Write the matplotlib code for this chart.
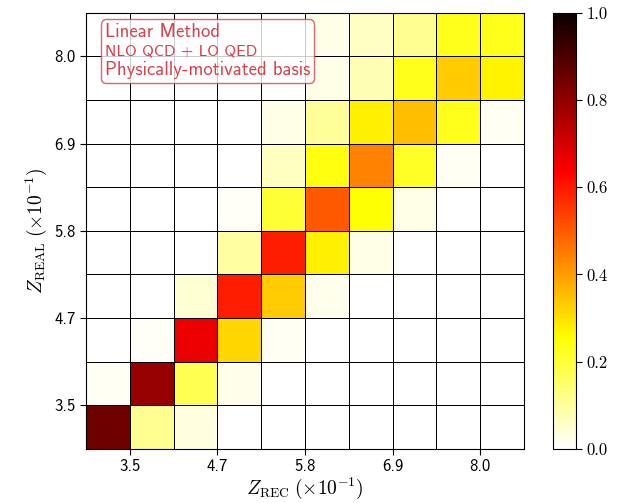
import matplotlib
matplotlib.use("Agg")
import matplotlib.pyplot as plt
import numpy as np
from matplotlib.offsetbox import AnchoredOffsetbox, TextArea, VPacker

plt.rcParams["mathtext.fontset"] = "cm"

# migration matrix, rows = Z_REAL bin (bottom to top), columns = Z_REC bin (left to right)
row_0 = [0.85, 0.11, 0.035, 0, 0, 0, 0, 0, 0, 0]
row_1 = [0.015, 0.79, 0.175, 0.02, 0, 0, 0, 0, 0, 0]
row_2 = [0, 0.01, 0.665, 0.315, 0.015, 0, 0, 0, 0, 0]
row_3 = [0, 0, 0.045, 0.59, 0.335, 0.02, 0, 0, 0, 0]
row_4 = [0, 0, 0, 0.095, 0.59, 0.275, 0.025, 0, 0, 0]
row_5 = [0, 0, 0, 0.01, 0.2, 0.5, 0.25, 0.025, 0, 0]
row_6 = [0, 0, 0, 0, 0.065, 0.24, 0.44, 0.215, 0.015, 0]
row_7 = [0, 0, 0, 0, 0.025, 0.105, 0.275, 0.35, 0.23, 0.015]
row_8 = [0, 0, 0, 0, 0.005, 0.025, 0.075, 0.23, 0.33, 0.27]
row_9 = [0, 0, 0, 0, 0, 0.025, 0.06, 0.11, 0.23, 0.23]

tick_labels = ["3.5", "4.7", "5.8", "6.9", "8.0"]
box_lines = ["Linear Method", "NLO QCD + LO QED", "Physically-motivated basis"]

matrix = np.array([row_0, row_1, row_2, row_3, row_4,
                   row_5, row_6, row_7, row_8, row_9])
n = matrix.shape[0]
edges = np.arange(n + 1)

fig = plt.figure(figsize=(6.34, 5.03), dpi=100)
ax = fig.add_axes([0.1356, 0.1074, 0.6909, 0.8674])
cax = fig.add_axes([0.8722, 0.1074, 0.0363, 0.8674])

mesh = ax.pcolormesh(edges, edges, matrix, cmap="hot_r", vmin=0, vmax=1,
                     edgecolors="k", linewidth=0.6)
ax.set_xlim(0, n)
ax.set_ylim(0, n)

ticks = edges[1::2]
ax.set_xticks(ticks)
ax.set_yticks(ticks)
ax.set_xticklabels(tick_labels, fontfamily="cmss10", fontsize=12)
ax.set_yticklabels(tick_labels, fontfamily="cmss10", fontsize=12)
ax.tick_params(direction="out", length=4, width=0.8)
ax.set_xlabel(r"$Z_{\rm REC}\;(\times 10^{-1})$", fontsize=14, labelpad=1)
ax.set_ylabel(r"$Z_{\rm REAL}\;(\times 10^{-1})$", fontsize=14, labelpad=4)

cb = fig.colorbar(mesh, cax=cax)
cb.set_ticks([0.0, 0.2, 0.4, 0.6, 0.8, 1.0])
cb.ax.set_yticklabels(["0.0", "0.2", "0.4", "0.6", "0.8", "1.0"],
                      fontfamily="cmr10", fontsize=12)
cb.ax.tick_params(length=4, width=0.8)

# info box with mixed font sizes
red = "#d9404a"
areas = [
    TextArea(box_lines[0], textprops=dict(color=red, fontfamily="cmss10", fontsize=13.5)),
    TextArea(box_lines[1], textprops=dict(color=red, fontfamily="cmss10", fontsize=11.5)),
    TextArea(box_lines[2], textprops=dict(color=red, fontfamily="cmss10", fontsize=13.5)),
]
pack = VPacker(children=areas, align="left", pad=0, sep=2)
anchored = AnchoredOffsetbox(loc="upper left", child=pack, pad=0.3, borderpad=0,
                             bbox_to_anchor=(0.034, 0.985), bbox_transform=ax.transAxes,
                             frameon=True)
anchored.patch.set_boxstyle("round,pad=0,rounding_size=0.4")
anchored.patch.set_edgecolor(red)
anchored.patch.set_facecolor("white")
anchored.patch.set_alpha(0.8)
anchored.patch.set_linewidth(1.0)
ax.add_artist(anchored)

fig.savefig("out.png", dpi=100)
